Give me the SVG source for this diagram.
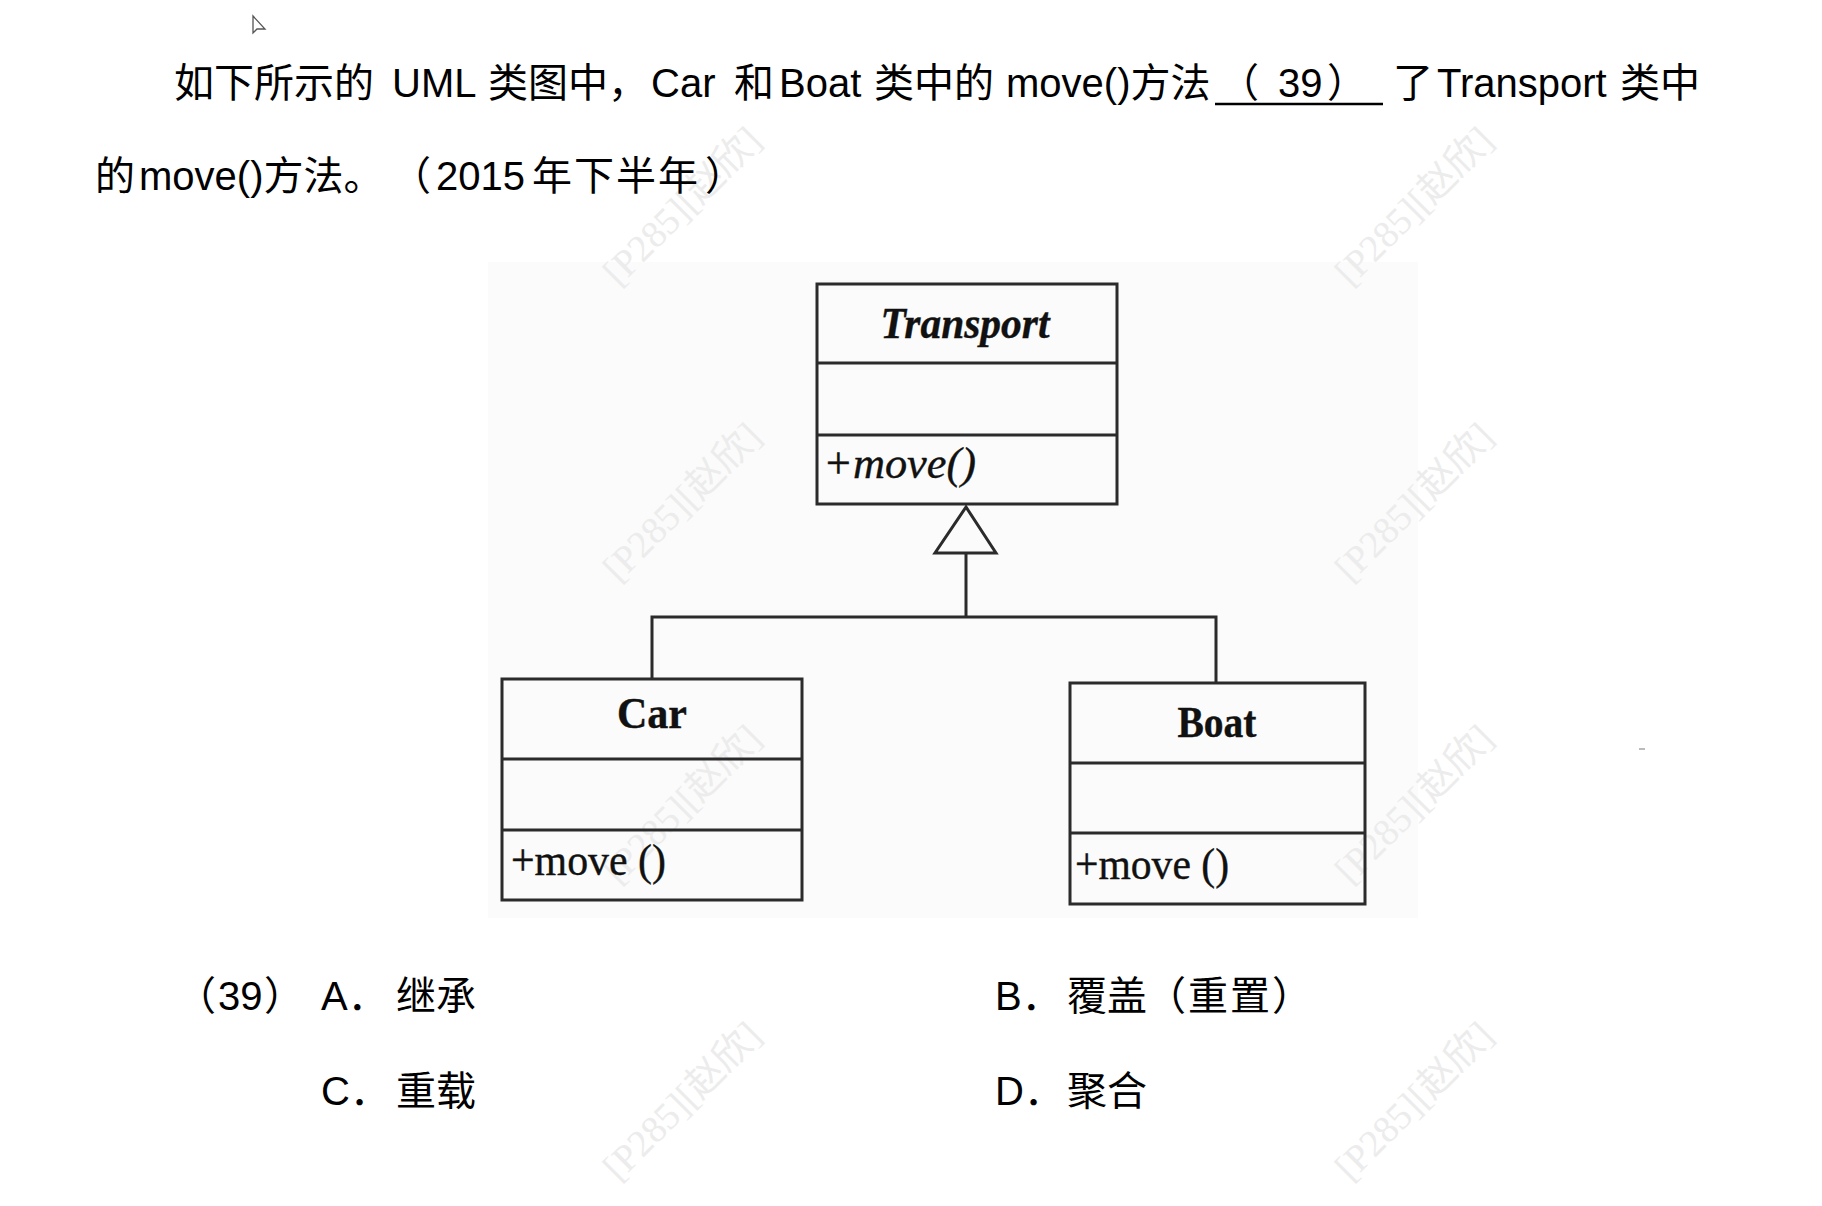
<svg xmlns="http://www.w3.org/2000/svg" width="1822" height="1206" viewBox="0 0 1822 1206">
<style>
.t{font-family:"Liberation Sans","Noto Sans CJK SC",sans-serif;font-size:40px;fill:#000}
.wm{font-family:"Liberation Serif","Noto Sans CJK SC",serif;font-size:38px;fill:#ececec}
.box{fill:none;stroke:#2b2b2b;stroke-width:3}
.ln{stroke:#2b2b2b;stroke-width:3;fill:none}
.uml{font-family:"Liberation Serif","Noto Serif CJK SC",serif;font-size:44px;fill:#111;stroke:#111;stroke-width:0.4}
</style>
<rect width="1822" height="1206" fill="#fff"/>
<rect x="488" y="262" width="930" height="656" fill="#fbfbfb"/>
<g id="watermarks">
<text class="wm" transform="translate(705,-81) rotate(-45)" text-anchor="middle">[P285][赵欣]</text>
<text class="wm" transform="translate(1437,-81) rotate(-45)" text-anchor="middle">[P285][赵欣]</text>
<text class="wm" transform="translate(691,215) rotate(-45)" text-anchor="middle">[P285][赵欣]</text>
<text class="wm" transform="translate(1423,215) rotate(-45)" text-anchor="middle">[P285][赵欣]</text>
<text class="wm" transform="translate(691,511) rotate(-45)" text-anchor="middle">[P285][赵欣]</text>
<text class="wm" transform="translate(1423,511) rotate(-45)" text-anchor="middle">[P285][赵欣]</text>
<text class="wm" transform="translate(691,813) rotate(-45)" text-anchor="middle">[P285][赵欣]</text>
<text class="wm" transform="translate(1423,813) rotate(-45)" text-anchor="middle">[P285][赵欣]</text>
<text class="wm" transform="translate(691,1110) rotate(-45)" text-anchor="middle">[P285][赵欣]</text>
<text class="wm" transform="translate(1423,1110) rotate(-45)" text-anchor="middle">[P285][赵欣]</text>
</g>
<path d="M253,16 L253,33 L257,29 L265,29 Z" fill="#fff" stroke="#555" stroke-width="1.3"/>
<line x1="1639" y1="749" x2="1645" y2="749" stroke="#bbb" stroke-width="2"/>
<g id="question">
<text class="t" y="97"><tspan x="174">如下所示的</tspan><tspan x="392">UML</tspan><tspan x="488">类图中，</tspan><tspan x="651">Car</tspan><tspan x="734">和</tspan><tspan x="779">Boat</tspan><tspan x="874">类中的</tspan><tspan x="1006">move()方法</tspan></text>
<text class="t" y="97"><tspan x="1219">（</tspan><tspan x="1278">39</tspan><tspan x="1327">）</tspan></text>
<text class="t" y="97"><tspan x="1393">了</tspan><tspan x="1437">Transport</tspan><tspan x="1620">类中</tspan></text>
<line x1="1215" y1="104" x2="1383" y2="104" stroke="#000" stroke-width="2.5"/>
<text class="t" y="190"><tspan x="95">的</tspan><tspan x="139">move()方法。</tspan></text>
<text class="t" y="190"><tspan x="391">（</tspan><tspan x="436">2015</tspan></text>
<text class="t" y="190" letter-spacing="2"><tspan x="532">年下半年</tspan></text>
<text class="t" y="190"><tspan x="705">）</tspan></text>
</g>
<g id="connectors">
<polygon class="ln" points="966,507 935,553 996,553"/>
<line class="ln" x1="966" y1="553" x2="966" y2="617"/>
<polyline class="ln" points="652,679 652,617 1216,617 1216,683"/>
</g>
<g id="transport">
<rect class="box" x="817" y="284" width="300" height="220"/>
<line class="ln" x1="817" y1="363" x2="1117" y2="363"/>
<line class="ln" x1="817" y1="435" x2="1117" y2="435"/>
<text class="uml" x="965" y="338" text-anchor="middle" font-weight="bold" font-style="italic" textLength="169" lengthAdjust="spacingAndGlyphs">Transport</text>
<text class="uml" x="823" y="478" font-style="italic" textLength="153" lengthAdjust="spacingAndGlyphs">+move()</text>
</g>
<g id="car">
<rect class="box" x="502" y="679" width="300" height="221"/>
<line class="ln" x1="502" y1="759" x2="802" y2="759"/>
<line class="ln" x1="502" y1="830" x2="802" y2="830"/>
<text class="uml" x="652" y="728" text-anchor="middle" font-weight="bold" textLength="70" lengthAdjust="spacingAndGlyphs">Car</text>
<text class="uml" x="511" y="875" textLength="155" lengthAdjust="spacingAndGlyphs">+move ()</text>
</g>
<g id="boat">
<rect class="box" x="1070" y="683" width="295" height="221"/>
<line class="ln" x1="1070" y1="763" x2="1365" y2="763"/>
<line class="ln" x1="1070" y1="833" x2="1365" y2="833"/>
<text class="uml" x="1217" y="737" text-anchor="middle" font-weight="bold" textLength="79" lengthAdjust="spacingAndGlyphs">Boat</text>
<text class="uml" x="1075" y="879" textLength="154" lengthAdjust="spacingAndGlyphs">+move ()</text>
</g>
<g id="options">
<text class="t" y="1010"><tspan x="176">（</tspan><tspan x="218">39</tspan><tspan x="264">）</tspan><tspan x="321">A．</tspan><tspan x="396">继承</tspan></text>
<text class="t" y="1010"><tspan x="995">B．</tspan><tspan x="1067">覆盖</tspan></text>
<text class="t" y="1010"><tspan x="1146">（</tspan></text>
<text class="t" y="1010" letter-spacing="2"><tspan x="1188">重置</tspan></text>
<text class="t" y="1010"><tspan x="1272">）</tspan></text>
<text class="t" y="1105"><tspan x="321">C．</tspan><tspan x="396">重载</tspan><tspan x="995">D．</tspan><tspan x="1067">聚合</tspan></text>
</g>
</svg>
